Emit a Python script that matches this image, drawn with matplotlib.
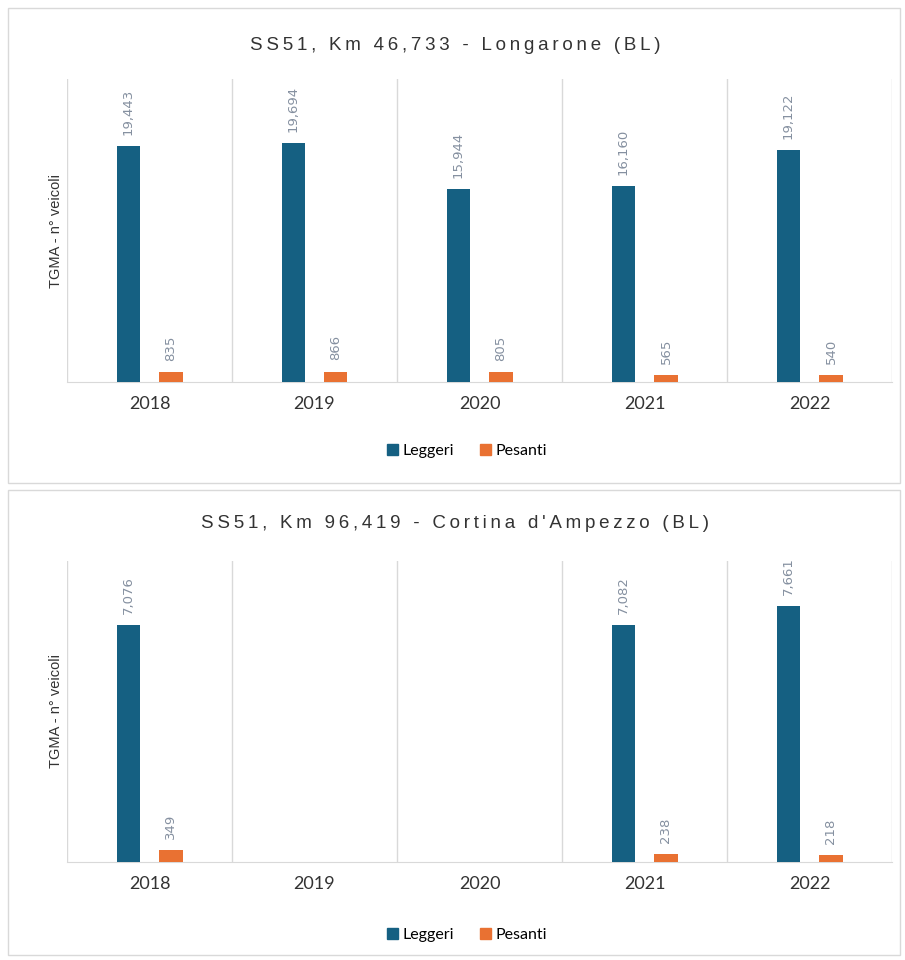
import numpy as np
import matplotlib
matplotlib.use("Agg")
import matplotlib.pyplot as plt
from matplotlib.patches import Rectangle

years = ["2018", "2019", "2020", "2021", "2022"]
series_names = ["Leggeri", "Pesanti"]

title_top = "SS51, Km 46,733 - Longarone (BL)"
leggeri_top = [19443, 19694, 15944, 16160, 19122]
pesanti_top = [835, 866, 805, 565, 540]

title_bot = "SS51, Km 96,419 - Cortina d'Ampezzo (BL)"
leggeri_bot = [7076, np.nan, np.nan, 7082, 7661]
pesanti_bot = [349, np.nan, np.nan, 238, 218]

ylabel = "TGMA - n° veicoli"
c_legg = "#156082"
c_pes = "#E97132"
grid_c = "#d9d9d9"
lab_c = "#8590a0"

plt.rcParams['font.family'] = ['Lato', 'DejaVu Sans']

W, H = 905, 960
fig = plt.figure(figsize=(W / 100, H / 100), dpi=100)

def fx(px):
    return px / W

def fy(py):
    return 1 - py / H

# panel borders
for (y0, y1) in [(8, 483), (490, 955)]:
    fig.patches.append(Rectangle((fx(8), fy(y1)), fx(900) - fx(8), fy(y0) - fy(y1),
                                 transform=fig.transFigure, fill=False,
                                 edgecolor=grid_c, linewidth=1.0))

def fmt(v):
    return f"{int(v):,}"

def spaced(s):
    return "\u2009".join(s)

def panel(ax_top, ax_bot, title, title_y, leg_y, legg, pes, ymax):
    ax = fig.add_axes([fx(67), fy(ax_bot), fx(892) - fx(67), fy(ax_top) - fy(ax_bot)])
    x = np.arange(len(years))
    bw = 0.14
    off = 0.13
    ax.bar(x - off, legg, bw, color=c_legg, zorder=3)
    ax.bar(x + off, pes, bw, color=c_pes, zorder=3)
    for xi, v in zip(x, legg):
        if not np.isnan(v):
            ax.annotate(fmt(v), (xi - off, v), xytext=(0, 8), textcoords="offset points",
                        rotation=90, ha="center", va="bottom", fontsize=9.5,
                        color=lab_c, family=['DejaVu Sans'])
    for xi, v in zip(x, pes):
        if not np.isnan(v):
            ax.annotate(fmt(v), (xi + off, v), xytext=(0, 8), textcoords="offset points",
                        rotation=90, ha="center", va="bottom", fontsize=9.5,
                        color=lab_c, family=['DejaVu Sans'])
    ax.set_xlim(-0.5, len(years) - 0.5)
    ax.set_ylim(0, ymax)
    for b in np.arange(-0.5, len(years), 1.0):
        ax.axvline(b, color=grid_c, linewidth=1.0, zorder=1)
    for s in ["top", "right", "left"]:
        ax.spines[s].set_visible(False)
    ax.spines["bottom"].set_color(grid_c)
    ax.set_yticks([])
    ax.set_xticks(x)
    ax.set_xticklabels(years, fontsize=13, color="#333333")
    ax.tick_params(axis="x", length=0, pad=10)
    ax.set_ylabel(ylabel, fontsize=10.5, color="#333333",
                  family=['Liberation Sans', 'DejaVu Sans'], labelpad=3)
    fig.text(fx(455), fy(title_y), spaced(title), ha="center", va="center", fontsize=13.5,
             color="#333333", family=['Liberation Sans', 'DejaVu Sans'])
    handles = [Rectangle((0, 0), 1, 1, color=c_legg), Rectangle((0, 0), 1, 1, color=c_pes)]
    fig.legend(handles, series_names, loc="center", bbox_to_anchor=(fx(467), fy(leg_y)),
               ncol=2, frameon=False, fontsize=11.5, handlelength=0.7, handleheight=0.7,
               handletextpad=0.3, columnspacing=1.6)
    return ax

panel(79, 382, title_top, 45, 451, leggeri_top, pesanti_top, 25000)
panel(561, 862, title_bot, 523, 935, leggeri_bot, pesanti_bot, 9000)

fig.savefig("out.png", dpi=100)
